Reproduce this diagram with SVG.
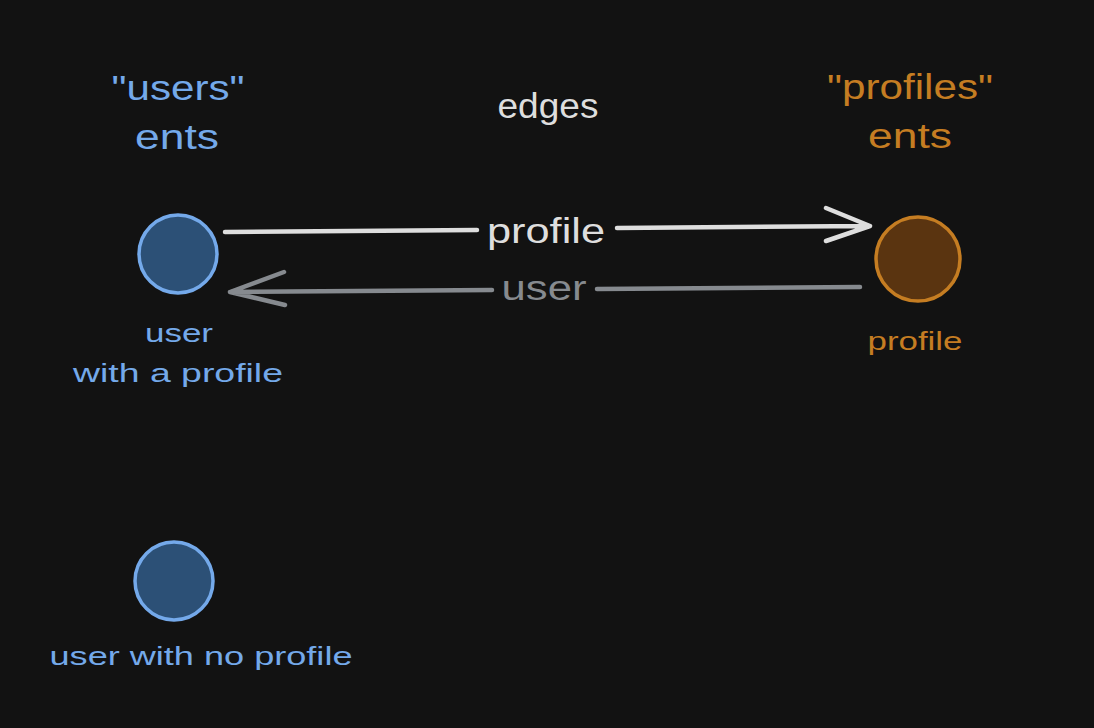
<svg xmlns="http://www.w3.org/2000/svg" width="1094" height="728" viewBox="0 0 1094 728">
<style>
text{font-family:"Liberation Sans",Arial,sans-serif;text-anchor:middle}
.big{font-size:35px}
.small{font-size:26px}
.blue{fill:#74a9ea}
.orange{fill:#c57d22}
.white{fill:#dedede}
.gray{fill:#868a8f}
.bnode{fill:#2c5076;stroke:#74a9ea;stroke-width:3.5}
.onode{fill:#5a3410;stroke:#c57d22;stroke-width:3.5}
.a1{stroke:#dedede;stroke-width:4.5;fill:none;stroke-linecap:round;stroke-linejoin:round}
.a2{stroke:#868a8f;stroke-width:4.5;fill:none;stroke-linecap:round;stroke-linejoin:round}
</style>
<rect width="1094" height="728" fill="#121212"/>
<g id="title-users">
<text class="big blue" x="178" y="100" textLength="133" lengthAdjust="spacingAndGlyphs">"users"</text>
<text class="big blue" x="177" y="149" textLength="84" lengthAdjust="spacingAndGlyphs">ents</text>
</g>
<g id="title-edges">
<text class="big white" x="548" y="118" textLength="101" lengthAdjust="spacingAndGlyphs">edges</text>
</g>
<g id="title-profiles">
<text class="big orange" x="910" y="99" textLength="166" lengthAdjust="spacingAndGlyphs">"profiles"</text>
<text class="big orange" x="910" y="148" textLength="84" lengthAdjust="spacingAndGlyphs">ents</text>
</g>
<g id="node-user1">
<circle class="bnode" cx="178" cy="254" r="39"/>
<text class="small blue" x="179" y="342" textLength="68" lengthAdjust="spacingAndGlyphs">user</text>
<text class="small blue" x="178" y="382" textLength="210" lengthAdjust="spacingAndGlyphs">with a profile</text>
</g>
<g id="node-profile">
<circle class="onode" cx="918" cy="259" r="42"/>
<text class="small orange" x="915" y="350" textLength="95" lengthAdjust="spacingAndGlyphs">profile</text>
</g>
<g id="node-user2">
<circle class="bnode" cx="174" cy="581" r="39"/>
<text class="small blue" x="201" y="665" textLength="303" lengthAdjust="spacingAndGlyphs">user with no profile</text>
</g>
<g id="connectors">
<path class="a1" d="M225 232 L477 230 M617 228 L870 226 M826 208 L870 226 L826 241"/>
<text class="big white" x="546" y="243" textLength="118" lengthAdjust="spacingAndGlyphs">profile</text>
<path class="a2" d="M860 287 L597 289 M492 290 L230 292 M284 272 L230 292 L285 305"/>
<text class="big gray" x="544" y="300" textLength="85" lengthAdjust="spacingAndGlyphs">user</text>
</g>
</svg>
